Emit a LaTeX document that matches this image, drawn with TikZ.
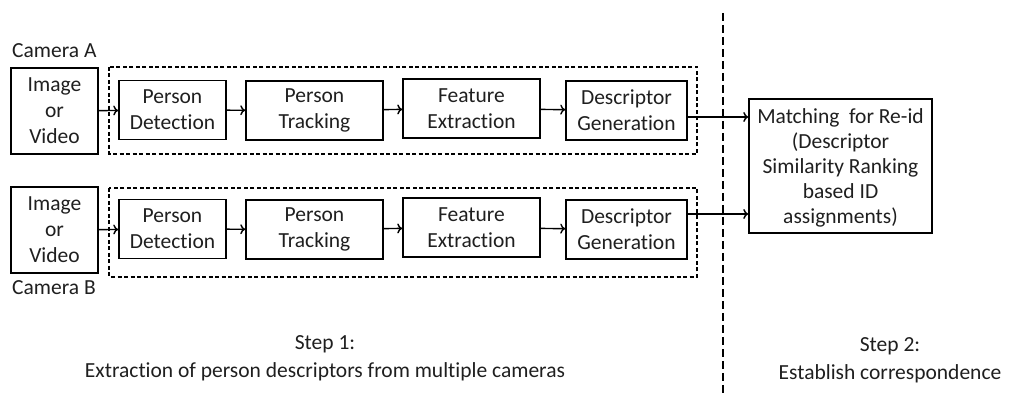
\documentclass[tikz,border=0pt]{standalone}
\usepackage{fontspec}
\setmainfont{Carlito}[Ligatures=NoCommon]
\usepackage{tikz}
\usetikzlibrary{arrows.meta,positioning,calc}

\begin{document}
\begin{tikzpicture}[x=1pt,y=-1pt,
		txt/.style={font=\fontsize{21.5}{26}\selectfont,inner sep=0pt,text=black!88},
		blk/.style={txt,draw,line width=1.5pt,align=center,minimum height=59pt},
		grp/.style={draw,line width=1.2pt,dash pattern=on 4pt off 2.5pt},
		lnk/.style={-{To[length=5pt,width=10pt]},line width=1.4pt}]
		\useasboundingbox (0,0) rectangle (1018,395);
		% camera A
		\draw[grp] (109,67) rectangle (697,154);
		\node[blk,minimum width=87pt,minimum height=86pt] (imgA) at (54.5,111) {Image\\or\\Video};
		\node[txt,anchor=base west] (camA) at (12,58) {Camera A};
		\node[blk,minimum width=107pt] (detA) at (172.5,110) {Person\\Detection};
		\node[blk,minimum width=137pt] (trkA) at (314.5,110.5) {Person\\Tracking};
		\node[blk,minimum width=137pt] (featA) at (471.5,108.5) {Feature\\Extraction};
		\node[blk,minimum width=121pt] (descA) at (626.5,110.5) {Descriptor\\Generation};
		% camera B
		\draw[grp] (109,188) rectangle (697,277);
		\node[blk,minimum width=87pt,minimum height=86pt] (imgB) at (54.5,230) {Image\\or\\Video};
		\node[txt,anchor=base west] (camB) at (12,295) {Camera B};
		\node[blk,minimum width=107pt] (detB) at (172.5,229) {Person\\Detection};
		\node[blk,minimum width=137pt] (trkB) at (314.5,229.5) {Person\\Tracking};
		\node[blk,minimum width=137pt] (featB) at (471.5,227.5) {Feature\\Extraction};
		\node[blk,minimum width=121pt] (descB) at (626.5,229.5) {Descriptor\\Generation};
		% step 2
		\node[blk,minimum width=183pt,minimum height=134pt,font=\fontsize{21.5}{25}\selectfont,text depth=0pt] (match) at (840.5,166) {Matching\ \ for Re-id\\(Descriptor\\Similarity Ranking\\based ID\\assignments)};
		\coordinate (inA) at ($(match.west)+(0,-49)$);
		\coordinate (inB) at ($(match.west)+(0,48)$);
		% arrows
		\draw[lnk] (imgA) -- (detA);
		\draw[lnk] (detA) -- (trkA);
		\draw[lnk] (trkA) -- (featA);
		\draw[lnk] (featA) -- (descA);
		\draw[lnk] (imgB) -- (detB);
		\draw[lnk] (detB) -- (trkB);
		\draw[lnk] (trkB) -- (featB);
		\draw[lnk] (featB) -- (descB);
		\draw[lnk] (descA.east |- inA) -- (inA);
		\draw[lnk] (descB.east |- inB) -- (inB);
		% separator
		\coordinate (sepT) at (723,13);
		\coordinate (sepB) at (723,395);
		\draw[line width=1.8pt,dash pattern=on 8pt off 4pt] (sepT) -- (sepB);
		\node[txt,align=center,font=\fontsize{21.5}{28}\selectfont] (step1) at (325,358) {Step 1:\\Extraction of person descriptors from multiple cameras};
		\node[txt,align=center,font=\fontsize{21.5}{28}\selectfont] (step2) at (890,360) {Step 2:\\Establish correspondence};
	\end{tikzpicture}
\end{document}
